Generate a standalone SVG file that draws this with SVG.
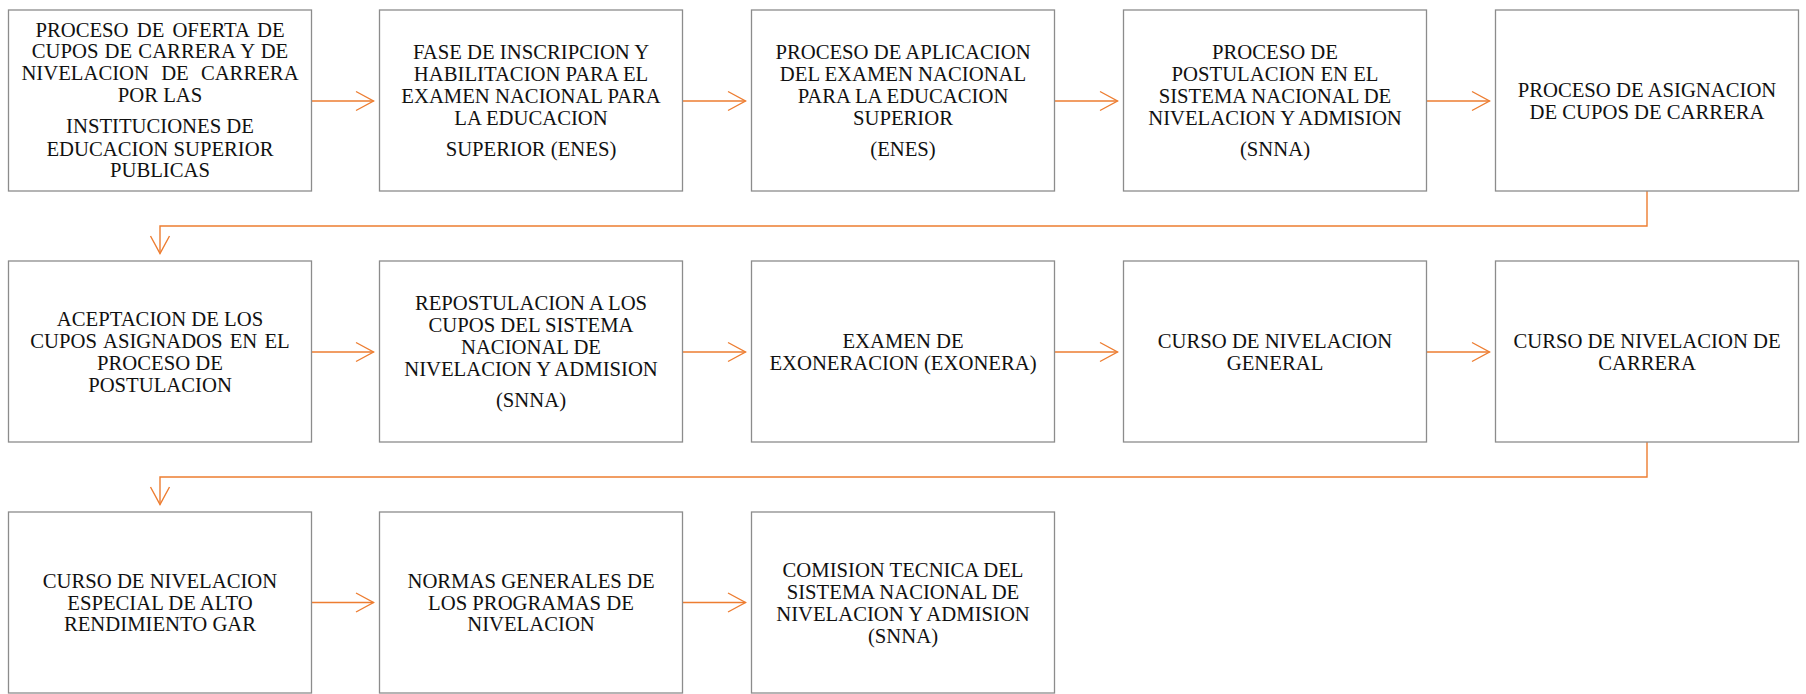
<svg xmlns="http://www.w3.org/2000/svg" width="1806" height="694" viewBox="0 0 1806 694">
<style>
.box{fill:#ffffff;stroke:#8c8c8c;stroke-width:1.3}
.t{font-family:"Liberation Serif","Times New Roman",serif;font-size:20.7px;fill:#111111;text-anchor:middle}
.c{fill:none;stroke:#ED7D31;stroke-width:1.4}
</style>
<defs>
<marker id="arr" markerUnits="userSpaceOnUse" markerWidth="24" markerHeight="24" viewBox="-20 -12 24 24" refX="0" refY="0" orient="auto">
<path d="M-17.5,-9.5 L0,0 L-17.5,9.5" fill="none" stroke="#ED7D31" stroke-width="1.4"/>
</marker>
</defs>
<rect width="1806" height="694" fill="#ffffff"/>

<g id="connectors">
<path class="c" d="M311.5,101 H373.5" marker-end="url(#arr)"/>
<path class="c" d="M682.5,101 H745.5" marker-end="url(#arr)"/>
<path class="c" d="M1054.5,101 H1117.5" marker-end="url(#arr)"/>
<path class="c" d="M1426.5,101 H1489.5" marker-end="url(#arr)"/>
<path class="c" d="M1647,191 V226 H160 V253.5" marker-end="url(#arr)"/>
<path class="c" d="M311.5,352 H373.5" marker-end="url(#arr)"/>
<path class="c" d="M682.5,352 H745.5" marker-end="url(#arr)"/>
<path class="c" d="M1054.5,352 H1117.5" marker-end="url(#arr)"/>
<path class="c" d="M1426.5,352 H1489.5" marker-end="url(#arr)"/>
<path class="c" d="M1647,442 V477 H160 V504.5" marker-end="url(#arr)"/>
<path class="c" d="M311.5,602.5 H373.5" marker-end="url(#arr)"/>
<path class="c" d="M682.5,602.5 H745.5" marker-end="url(#arr)"/>
</g>

<g id="n1">
<rect class="box" x="8.5" y="10" width="303" height="181"/>
<text class="t" x="160" y="36.7" word-spacing="3">PROCESO DE OFERTA DE</text>
<text class="t" x="160" y="58.3" word-spacing="1">CUPOS DE CARRERA Y DE</text>
<text class="t" x="160" y="80" word-spacing="7">NIVELACION DE CARRERA</text>
<text class="t" x="160" y="101.7">POR LAS</text>
<text class="t" x="160" y="133.3">INSTITUCIONES DE</text>
<text class="t" x="160" y="155.5">EDUCACION SUPERIOR</text>
<text class="t" x="160" y="176.7">PUBLICAS</text>
</g>
<g id="n2">
<rect class="box" x="379.5" y="10" width="303" height="181"/>
<text class="t" x="531" y="59.3">FASE DE INSCRIPCION Y</text>
<text class="t" x="531" y="81">HABILITACION PARA EL</text>
<text class="t" x="531" y="102.7">EXAMEN NACIONAL PARA</text>
<text class="t" x="531" y="125">LA EDUCACION</text>
<text class="t" x="531" y="156">SUPERIOR (ENES)</text>
</g>
<g id="n3">
<rect class="box" x="751.5" y="10" width="303" height="181"/>
<text class="t" x="903" y="59.3">PROCESO DE APLICACION</text>
<text class="t" x="903" y="81">DEL EXAMEN NACIONAL</text>
<text class="t" x="903" y="102.7">PARA LA EDUCACION</text>
<text class="t" x="903" y="125">SUPERIOR</text>
<text class="t" x="903" y="156">(ENES)</text>
</g>
<g id="n4">
<rect class="box" x="1123.5" y="10" width="303" height="181"/>
<text class="t" x="1275" y="59.3">PROCESO DE</text>
<text class="t" x="1275" y="81">POSTULACION EN EL</text>
<text class="t" x="1275" y="102.7">SISTEMA NACIONAL DE</text>
<text class="t" x="1275" y="125">NIVELACION Y ADMISION</text>
<text class="t" x="1275" y="156">(SNNA)</text>
</g>
<g id="n5">
<rect class="box" x="1495.5" y="10" width="303" height="181"/>
<text class="t" x="1647" y="96.7">PROCESO DE ASIGNACION</text>
<text class="t" x="1647" y="119">DE CUPOS DE CARRERA</text>
</g>

<g id="n6">
<rect class="box" x="8.5" y="261" width="303" height="181"/>
<text class="t" x="160" y="326">ACEPTACION DE LOS</text>
<text class="t" x="160" y="348" word-spacing="2">CUPOS ASIGNADOS EN EL</text>
<text class="t" x="160" y="369.5">PROCESO DE</text>
<text class="t" x="160" y="391.5">POSTULACION</text>
</g>
<g id="n7">
<rect class="box" x="379.5" y="261" width="303" height="181"/>
<text class="t" x="531" y="310.3">REPOSTULACION A LOS</text>
<text class="t" x="531" y="332">CUPOS DEL SISTEMA</text>
<text class="t" x="531" y="353.7">NACIONAL DE</text>
<text class="t" x="531" y="376">NIVELACION Y ADMISION</text>
<text class="t" x="531" y="407">(SNNA)</text>
</g>
<g id="n8">
<rect class="box" x="751.5" y="261" width="303" height="181"/>
<text class="t" x="903" y="347.5">EXAMEN DE</text>
<text class="t" x="903" y="369.5">EXONERACION (EXONERA)</text>
</g>
<g id="n9">
<rect class="box" x="1123.5" y="261" width="303" height="181"/>
<text class="t" x="1275" y="347.5">CURSO DE NIVELACION</text>
<text class="t" x="1275" y="369.5">GENERAL</text>
</g>
<g id="n10">
<rect class="box" x="1495.5" y="261" width="303" height="181"/>
<text class="t" x="1647" y="347.5">CURSO DE NIVELACION DE</text>
<text class="t" x="1647" y="369.5">CARRERA</text>
</g>

<g id="n11">
<rect class="box" x="8.5" y="512" width="303" height="181"/>
<text class="t" x="160" y="588">CURSO DE NIVELACION</text>
<text class="t" x="160" y="609.5">ESPECIAL DE ALTO</text>
<text class="t" x="160" y="631">RENDIMIENTO GAR</text>
</g>
<g id="n12">
<rect class="box" x="379.5" y="512" width="303" height="181"/>
<text class="t" x="531" y="588">NORMAS GENERALES DE</text>
<text class="t" x="531" y="609.5">LOS PROGRAMAS DE</text>
<text class="t" x="531" y="631">NIVELACION</text>
</g>
<g id="n13">
<rect class="box" x="751.5" y="512" width="303" height="181"/>
<text class="t" x="903" y="576.7">COMISION TECNICA DEL</text>
<text class="t" x="903" y="599">SISTEMA NACIONAL DE</text>
<text class="t" x="903" y="620.5">NIVELACION Y ADMISION</text>
<text class="t" x="903" y="643">(SNNA)</text>
</g>
</svg>
